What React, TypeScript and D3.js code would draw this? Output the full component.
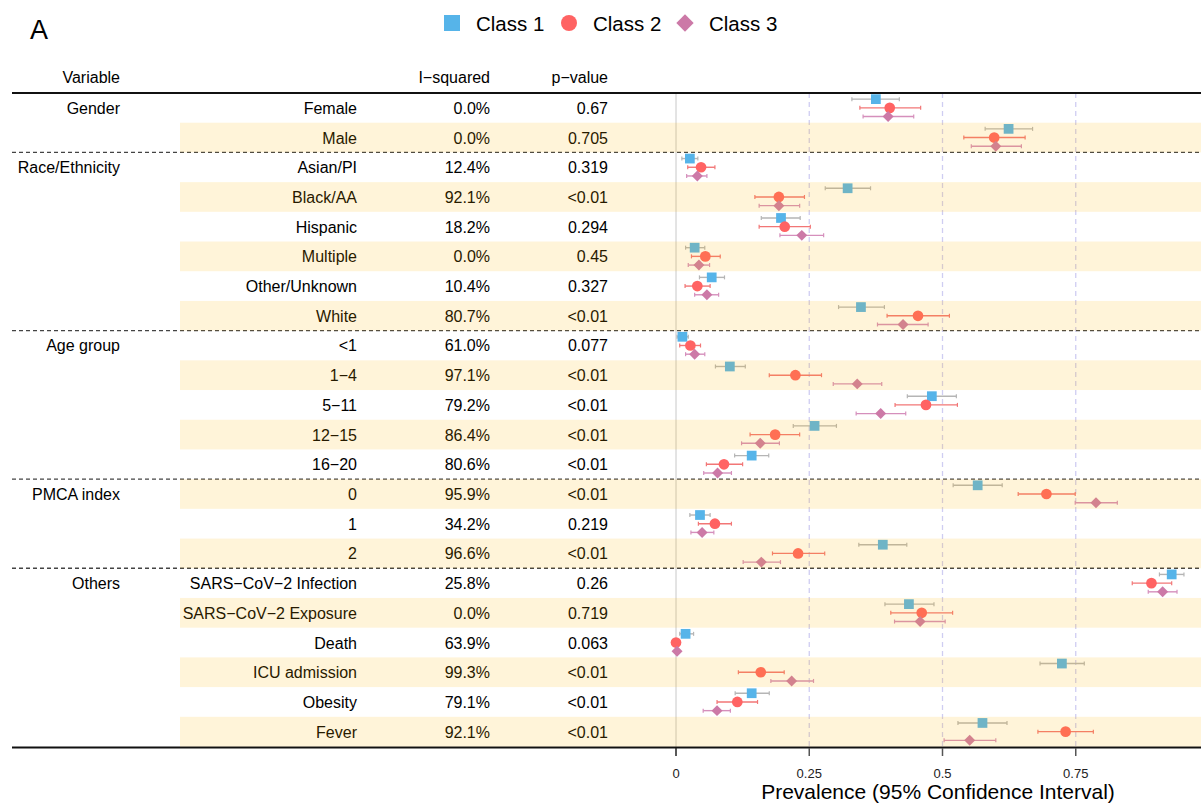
import React from 'react'
import * as d3 from 'd3'

// table rows
const groupLabels = ['Gender', 'Race/Ethnicity', 'Age group', 'PMCA index', 'Others']
const groupStart = [0, 2, 8, 13, 16]
const variables = [
    'Female', 'Male',
    'Asian/PI', 'Black/AA', 'Hispanic', 'Multiple', 'Other/Unknown', 'White',
    '<1', '1−4', '5−11', '12−15', '16−20',
    '0', '1', '2',
    'SARS−CoV−2 Infection', 'SARS−CoV−2 Exposure', 'Death', 'ICU admission', 'Obesity', 'Fever',
]
const iSquared = ['0.0%', '0.0%', '12.4%', '92.1%', '18.2%', '0.0%', '10.4%', '80.7%', '61.0%', '97.1%', '79.2%',
    '86.4%', '80.6%', '95.9%', '34.2%', '96.6%', '25.8%', '0.0%', '63.9%', '99.3%', '79.1%', '92.1%']
const pValues = ['0.67', '0.705', '0.319', '<0.01', '0.294', '0.45', '0.327', '<0.01', '0.077', '<0.01', '<0.01',
    '<0.01', '<0.01', '<0.01', '0.219', '<0.01', '0.26', '0.719', '0.063', '<0.01', '<0.01', '<0.01']

// prevalence estimates and 95% CI per class
const class1Est = [0.375, 0.624, 0.026, 0.322, 0.197, 0.035, 0.067, 0.347, 0.012, 0.101, 0.480, 0.260, 0.142, 0.566, 0.045, 0.388, 0.930, 0.437, 0.018, 0.724, 0.142, 0.575]
const class1Lo = [0.330, 0.580, 0.011, 0.280, 0.160, 0.018, 0.044, 0.305, 0.002, 0.074, 0.434, 0.220, 0.110, 0.520, 0.026, 0.343, 0.907, 0.392, 0.007, 0.683, 0.111, 0.529]
const class1Hi = [0.419, 0.669, 0.041, 0.365, 0.233, 0.054, 0.091, 0.391, 0.023, 0.130, 0.526, 0.301, 0.174, 0.612, 0.064, 0.433, 0.953, 0.484, 0.033, 0.766, 0.175, 0.621]

const class2Est = [0.401, 0.597, 0.047, 0.193, 0.204, 0.055, 0.040, 0.454, 0.027, 0.224, 0.469, 0.186, 0.090, 0.695, 0.073, 0.229, 0.892, 0.461, 0.000, 0.159, 0.115, 0.731]
const class2Lo = [0.345, 0.540, 0.022, 0.148, 0.156, 0.029, 0.017, 0.396, 0.007, 0.175, 0.411, 0.139, 0.057, 0.642, 0.042, 0.181, 0.856, 0.403, 0.000, 0.117, 0.077, 0.679]
const class2Hi = [0.459, 0.655, 0.073, 0.241, 0.252, 0.083, 0.064, 0.513, 0.046, 0.273, 0.528, 0.232, 0.125, 0.749, 0.104, 0.279, 0.930, 0.519, 0.001, 0.203, 0.153, 0.783]

const class3Est = [0.398, 0.600, 0.040, 0.193, 0.236, 0.043, 0.058, 0.426, 0.035, 0.340, 0.384, 0.158, 0.078, 0.788, 0.049, 0.160, 0.913, 0.458, 0.002, 0.217, 0.077, 0.551]
const class3Lo = [0.351, 0.554, 0.020, 0.156, 0.195, 0.023, 0.035, 0.378, 0.018, 0.295, 0.338, 0.123, 0.052, 0.749, 0.028, 0.126, 0.886, 0.410, 0.000, 0.178, 0.051, 0.503]
const class3Hi = [0.446, 0.648, 0.058, 0.232, 0.277, 0.063, 0.080, 0.473, 0.054, 0.386, 0.431, 0.194, 0.104, 0.828, 0.071, 0.196, 0.940, 0.505, 0.005, 0.258, 0.102, 0.600]

const classNames = ['Class 1', 'Class 2', 'Class 3']
const xTicks = [0, 0.25, 0.5, 0.75]

const W = 1201
const H = 804
const FONT = '"Liberation Sans", Arial, Helvetica, sans-serif'

const classes = [
    { name: classNames[0], est: class1Est, lo: class1Lo, hi: class1Hi, color: '#56B4E9', ci: '#B5B5B5', shape: 'square', dy: -8.7 },
    { name: classNames[1], est: class2Est, lo: class2Lo, hi: class2Hi, color: '#FF6363', ci: '#F27676', shape: 'circle', dy: 0 },
    { name: classNames[2], est: class3Est, lo: class3Lo, hi: class3Hi, color: '#CC79A7', ci: '#D58FBC', shape: 'diamond', dy: 8.7 },
]

const marker = (shape, size) => {
    if (shape === 'circle') return d3.symbol(d3.symbolCircle, size)()
    return d3.symbol(d3.symbolSquare, size)()
}

export default function App() {
    const x = d3.scaleLinear().domain([0, 1]).range([676, 1209])
    const y = d3.scaleBand().domain(d3.range(variables.length)).range([93, 746.5])
    const cy = i => y(i) + y.bandwidth() / 2

    const separators = groupStart.slice(1).map(s => y(s))

    const legendItems = [
        { x: 452, tx: 476 },
        { x: 569, tx: 593 },
        { x: 685, tx: 709 },
    ]

    return (
        <svg width={W} height={H} style={{ position: 'absolute', left: 0, top: 0, display: 'block', background: '#fff' }}
            fontFamily={FONT}>
            <text x={30} y={39} fontSize={27}>A</text>

            {/* legend */}
            {classes.map((c, k) => (
                <g key={c.name}>
                    <path d={c.shape === 'circle' ? marker('circle', 201) : marker('square', c.shape === 'diamond' ? 150 : 256)}
                        transform={`translate(${legendItems[k].x},23) rotate(${c.shape === 'diamond' ? 45 : 0})`}
                        fill={c.color} />
                    <text x={legendItems[k].tx} y={31} fontSize={20.5}>{c.name}</text>
                </g>
            ))}

            {/* header */}
            <text x={120} y={83} fontSize={16} textAnchor="end">Variable</text>
            <text x={490} y={83} fontSize={16} textAnchor="end">I−squared</text>
            <text x={608} y={83} fontSize={16} textAnchor="end">p−value</text>

            {/* reference lines */}
            <line x1={x(0)} x2={x(0)} y1={93} y2={748} stroke="#c8c8c8" strokeWidth={1} />
            {xTicks.slice(1).map(t => (
                <line key={t} x1={x(t)} x2={x(t)} y1={93} y2={748} stroke="#cfcdf2" strokeWidth={1.3} strokeDasharray="5,4" />
            ))}

            {/* text columns */}
            {groupLabels.map((g, k) => (
                <text key={g} x={120} y={cy(groupStart[k]) + 6} fontSize={16} textAnchor="end">{g}</text>
            ))}
            {variables.map((v, i) => (
                <g key={i} fontSize={16}>
                    <text x={357} y={cy(i) + 6} textAnchor="end">{v}</text>
                    <text x={490} y={cy(i) + 6} textAnchor="end">{iSquared[i]}</text>
                    <text x={608} y={cy(i) + 6} textAnchor="end">{pValues[i]}</text>
                </g>
            ))}

            {/* CIs and points */}
            {classes.map(c => (
                <g key={c.name}>
                    {c.est.map((e, i) => {
                        const yy = cy(i) + c.dy
                        return (
                            <g key={i}>
                                <line x1={x(c.lo[i])} x2={x(c.hi[i])} y1={yy} y2={yy} stroke={c.ci} strokeWidth={1.4} />
                                <line x1={x(c.lo[i])} x2={x(c.lo[i])} y1={yy - 2} y2={yy + 2} stroke={c.ci} strokeWidth={1.2} />
                                <line x1={x(c.hi[i])} x2={x(c.hi[i])} y1={yy - 2} y2={yy + 2} stroke={c.ci} strokeWidth={1.2} />
                                <path d={c.shape === 'circle' ? marker('circle', 90) : marker('square', c.shape === 'diamond' ? 60 : 95)}
                                    transform={`translate(${x(e)},${yy}) rotate(${c.shape === 'diamond' ? 45 : 0})`}
                                    fill={c.color} />
                            </g>
                        )
                    })}
                </g>
            ))}

            {/* horizontal rules */}
            <line x1={12} x2={W} y1={93} y2={93} stroke="#111" strokeWidth={2} />
            {separators.map((s, k) => (
                <line key={k} x1={12} x2={W} y1={s} y2={s} stroke="#444" strokeWidth={1.4} strokeDasharray="4,3" />
            ))}
            <line x1={12} x2={W} y1={747.5} y2={747.5} stroke="#111" strokeWidth={2} />

            {/* alternating bands drawn on top, like the original */}
            {variables.map((v, i) => i % 2 === 1 && (
                <rect key={'b' + i} x={180} width={W - 180} y={y(i)} height={y.bandwidth()}
                    fill="rgb(255,180,0)" fillOpacity={0.15} />
            ))}

            {/* x axis */}
            {xTicks.map(t => (
                <g key={'t' + t}>
                    <line x1={x(t)} x2={x(t)} y1={748} y2={756} stroke={t === 0 ? '#222' : '#555'} strokeWidth={1.5} />
                    <text x={x(t)} y={778} fontSize={13} textAnchor="middle" fill="#222">{t === 0 ? '0' : String(t)}</text>
                </g>
            ))}
            <text x={938} y={799} fontSize={21} textAnchor="middle">Prevalence (95% Confidence Interval)</text>
        </svg>
    )
}
